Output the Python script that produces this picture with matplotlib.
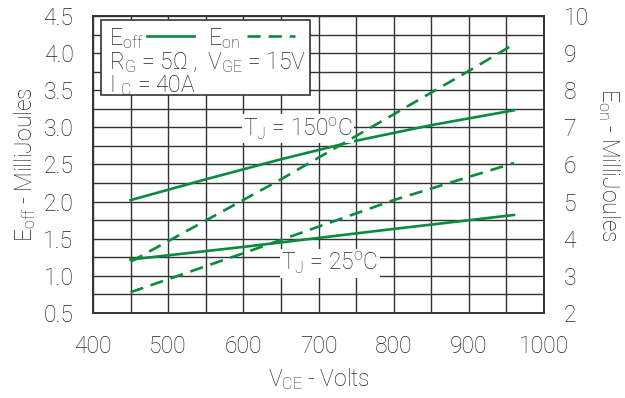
import numpy as np
import matplotlib.pyplot as plt
from matplotlib.lines import Line2D
from matplotlib.patches import Rectangle

plt.rcParams['font.family'] = ['Roboto', 'DejaVu Sans']
plt.rcParams['font.weight'] = 'light'
plt.rcParams['axes.labelweight'] = 'light'
plt.rcParams['font.size'] = 16.5
plt.rcParams['mathtext.fontset'] = 'custom'
plt.rcParams['mathtext.rm'] = 'Roboto:light'
plt.rcParams['mathtext.it'] = 'Roboto:light'
plt.rcParams['mathtext.default'] = 'rm'

green = '#0b8a3e'
txt = '#222222'

# E_off (left axis, mJ)
eoff_x = [450, 550, 650, 750, 850, 960]
eoff_150 = [2.02, 2.30, 2.57, 2.82, 3.03, 3.23]
eoff_25_x = [450, 600, 790, 960]
eoff_25 = [1.22, 1.39, 1.62, 1.82]

# E_on (right axis, mJ)
eon_150_x = [450, 650, 900, 960]
eon_150 = [3.38, 5.60, 8.52, 9.24]
eon_25_x = [450, 600, 800, 960]
eon_25 = [2.56, 3.61, 5.04, 6.04]

fig = plt.figure(figsize=(6.25, 3.98), dpi=100)
ax = fig.add_axes([0.1488, 0.2136, 0.7216, 0.7462])
ax2 = ax.twinx()

ax.set_xlim(400, 1000)
ax.set_ylim(0.5, 4.5)
ax2.set_ylim(2, 10)
ax.set_xticks(np.arange(400, 1001, 100))
ax.set_xticks(np.arange(450, 1000, 100), minor=True)
ax.set_yticks(np.arange(0.5, 4.51, 0.5))
ax.set_yticks(np.arange(0.75, 4.5, 0.5), minor=True)
ax.set_yticklabels(['%.1f' % v for v in np.arange(0.5, 4.51, 0.5)])
ax2.set_yticks(np.arange(2, 11, 1))
ax.grid(True, which='both', color='#333333', lw=1)
ax.tick_params(axis='x', which='both', length=0, pad=16, colors=txt)
ax.tick_params(axis='y', which='both', length=0, pad=14, colors=txt)
ax2.tick_params(length=0, pad=14, colors=txt)
for a in (ax, ax2):
    for s in a.spines.values():
        s.set_color('#333333')
        s.set_linewidth(1.2)

ax.plot(eoff_x, eoff_150, color=green, lw=1.9)
ax.plot(eoff_25_x, eoff_25, color=green, lw=1.9)
ax2.plot(eon_150_x, eon_150, color=green, lw=1.9, dashes=(5, 3))
ax2.plot(eon_25_x, eon_25, color=green, lw=1.9, dashes=(5, 3))

ax.set_xlabel('V$_{CE}$ - Volts', color=txt, labelpad=6)
ax.set_ylabel('E$_{off}$ - MilliJoules', color=txt, labelpad=4)
ax2.set_ylabel('E$_{on}$ - MilliJoules', color=txt, rotation=270, labelpad=24)

bbox = dict(facecolor='white', edgecolor='none', pad=1)
ax.text(673, 2.98, 'T$_J$ = 150$^o$C', ha='center', va='center', color=txt, bbox=bbox)
ax.text(715, 1.17, 'T$_J$ = 25$^o$C', ha='center', va='center', color=txt, bbox=bbox)

# legend box
ax.add_patch(Rectangle((0.0185, 0.7325), 0.4625, 0.2525, transform=ax.transAxes,
                       facecolor='white', edgecolor='#333333', lw=1.2, zorder=5))
tc = dict(transform=ax.transAxes, color=txt, zorder=6, va='center', ha='left')
ax.text(0.035, 0.925, 'E$_{off}$', **tc)
ax.add_line(Line2D([0.12, 0.224], [0.932, 0.932], transform=ax.transAxes, color=green, lw=1.9, zorder=6))
ax.text(0.255, 0.925, 'E$_{on}$', **tc)
ax.add_line(Line2D([0.342, 0.447], [0.932, 0.932], transform=ax.transAxes, color=green, lw=1.9,
                   dashes=(5, 3), zorder=6))
ax.text(0.035, 0.845, 'R$_G$ = 5Ω ,  V$_{GE}$ = 15V', **tc)
ax.text(0.035, 0.765, 'I $_C$ = 40A', **tc)

fig.savefig('out.png', dpi=100)
